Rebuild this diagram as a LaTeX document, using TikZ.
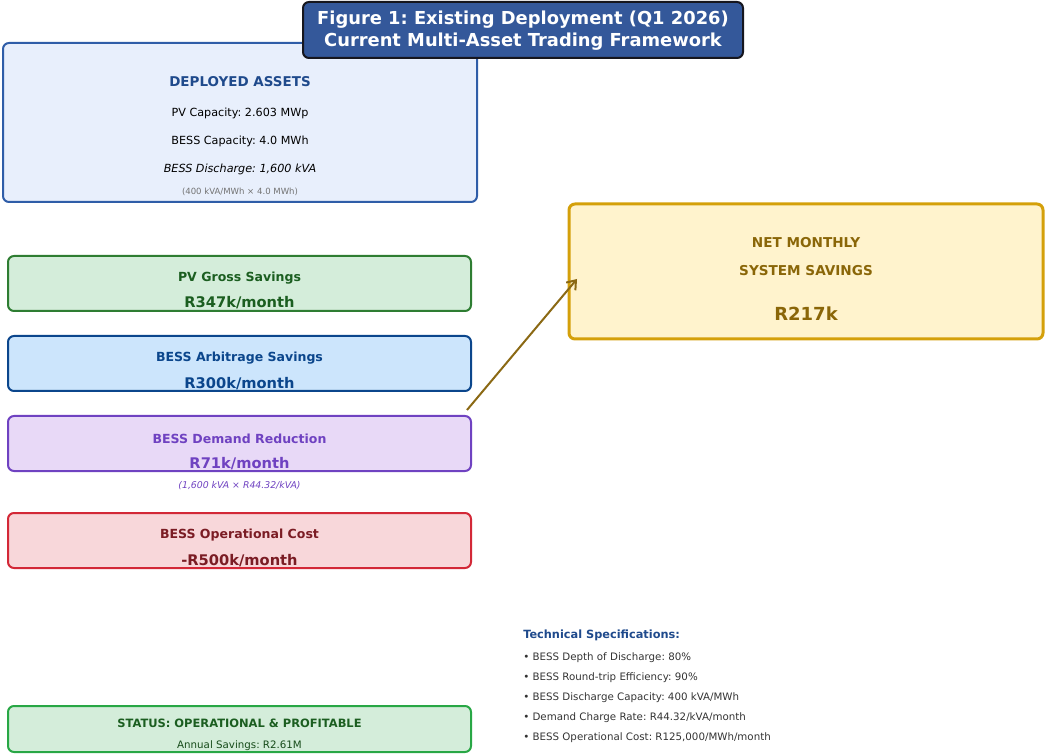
\documentclass[tikz,border=0pt]{standalone}
\usepackage{fontspec}
\setmainfont{DejaVu Sans}
\frenchspacing
\usetikzlibrary{arrows.meta}
\definecolor{titlefill}{RGB}{52,88,154}
\definecolor{titledraw}{RGB}{22,22,30}
\definecolor{assetfill}{RGB}{232,239,252}
\definecolor{assetdraw}{RGB}{47,93,168}
\definecolor{assettext}{RGB}{31,74,140}
\definecolor{pvfill}{RGB}{212,237,218}
\definecolor{pvdraw}{RGB}{46,125,50}
\definecolor{pvtext}{RGB}{27,94,32}
\definecolor{arbfill}{RGB}{204,229,252}
\definecolor{arbdraw}{RGB}{11,70,140}
\definecolor{arbtext}{RGB}{11,70,140}
\definecolor{demfill}{RGB}{232,217,247}
\definecolor{demdraw}{RGB}{111,66,193}
\definecolor{demtext}{RGB}{111,66,193}
\definecolor{opfill}{RGB}{248,215,218}
\definecolor{opdraw}{RGB}{211,40,55}
\definecolor{optext}{RGB}{123,28,36}
\definecolor{netfill}{RGB}{255,243,205}
\definecolor{netdraw}{RGB}{212,160,10}
\definecolor{nettext}{RGB}{138,102,8}
\definecolor{stfill}{RGB}{212,237,218}
\definecolor{stdraw}{RGB}{40,167,69}
\definecolor{sttext}{RGB}{27,94,32}
\definecolor{arrowc}{RGB}{139,105,20}
\definecolor{spectext}{RGB}{51,51,51}
\begin{document}
\begin{tikzpicture}[x=0.75pt,y=-0.75pt,
  box/.style={rectangle,rounded corners=4.5pt,line width=1.5pt,inner sep=0pt},
  lbl/.style={inner sep=0pt,anchor=center,yshift=-1.1pt},
  spec/.style={inner sep=0pt,anchor=west,yshift=-0.8pt,font=\fontsize{7.7}{9}\selectfont,text=spectext}]
\useasboundingbox (0,0) rectangle (1046,755);
% deployed assets
\node[box,fill=assetfill,draw=assetdraw,minimum width=355.5pt,minimum height=119.25pt] (assets) at (240,122.5) {};
\node[lbl,font=\fontsize{10.1}{12}\selectfont\bfseries,text=assettext] (assetsT) at (240,80) {DEPLOYED ASSETS};
\node[lbl,font=\fontsize{8.4}{10}\selectfont] (pvcap) at (240,112) {PV Capacity: 2.603 MWp};
\node[lbl,font=\fontsize{8.4}{10}\selectfont] (besscap) at (240,140) {BESS Capacity: 4.0 MWh};
\node[lbl,font=\fontsize{8.4}{10}\selectfont\itshape] (bessdis) at (240,168) {BESS Discharge: 1,600 kVA};
\node[lbl,font=\fontsize{6.4}{8}\selectfont,text=black!55] (bessnote) at (240,190) {(400 kVA/MWh × 4.0 MWh)};
% title
\node[box,fill=titlefill,draw=titledraw,minimum width=330pt,minimum height=42pt] (title) at (523,30) {};
\node[lbl,font=\fontsize{13.4}{16.5}\selectfont\bfseries,text=white,align=center] (titleT) at (523,29.5) {Figure 1: Existing Deployment (Q1 2026)\\Current Multi-Asset Trading Framework};
% PV
\node[box,fill=pvfill,draw=pvdraw,minimum width=347.25pt,minimum height=41.25pt] (pv) at (239.5,283.5) {};
\node[lbl,font=\fontsize{9.4}{11}\selectfont\bfseries,text=pvtext] (pvT) at (239.5,277) {PV Gross Savings};
\node[lbl,font=\fontsize{11}{13}\selectfont\bfseries,text=pvtext] (pvV) at (239.5,301) {R347k/month};
% Arbitrage
\node[box,fill=arbfill,draw=arbdraw,minimum width=347.25pt,minimum height=41.25pt] (arb) at (239.5,363.5) {};
\node[lbl,font=\fontsize{9.4}{11}\selectfont\bfseries,text=arbtext] (arbT) at (239.5,357) {BESS Arbitrage Savings};
\node[lbl,font=\fontsize{11}{13}\selectfont\bfseries,text=arbtext] (arbV) at (239.5,382) {R300k/month};
% Demand
\node[box,fill=demfill,draw=demdraw,minimum width=347.25pt,minimum height=41.25pt] (dem) at (239.5,443.5) {};
\node[lbl,font=\fontsize{9.4}{11}\selectfont\bfseries,text=demtext] (demT) at (239.5,437) {BESS Demand Reduction};
\node[lbl,font=\fontsize{11}{13}\selectfont\bfseries,text=demtext] (demV) at (239.5,462) {R71k/month};
\node[lbl,font=\fontsize{7}{8}\selectfont\itshape,text=demtext] (demN) at (239.5,484) {(1,600 kVA × R44.32/kVA)};
% Operational cost
\node[box,fill=opfill,draw=opdraw,minimum width=347.25pt,minimum height=41.25pt] (op) at (239.5,540.5) {};
\node[lbl,font=\fontsize{9.4}{11}\selectfont\bfseries,text=optext] (opT) at (239.5,534) {BESS Operational Cost};
\node[lbl,font=\fontsize{11}{13}\selectfont\bfseries,text=optext] (opV) at (239.5,559) {-R500k/month};
% Net
\node[box,fill=netfill,draw=netdraw,line width=2.25pt,minimum width=355.5pt,minimum height=101.25pt] (net) at (806,271.5) {};
\node[lbl,font=\fontsize{10.2}{12}\selectfont\bfseries,text=nettext] (netT1) at (806,241) {NET MONTHLY};
\node[lbl,font=\fontsize{10.2}{12}\selectfont\bfseries,text=nettext] (netT2) at (806,269) {SYSTEM SAVINGS};
\node[lbl,font=\fontsize{13.5}{16}\selectfont\bfseries,text=nettext] (netV) at (806,312) {R217k};
% arrow
\coordinate (arrS) at (467,410);
\coordinate (arrE) at (577,279);
\draw[arrowc,line width=1.5pt,-{Straight Barb[length=6pt,width=9pt,line width=1.5pt]}] (arrS) -- (arrE);
% specs
\node[inner sep=0pt,anchor=west,yshift=-0.8pt,font=\fontsize{8.5}{10}\selectfont\bfseries,text=assettext] (specT) at (523,634) {Technical Specifications:};
\node[spec] (s1) at (523,657) {• BESS Depth of Discharge: 80\%};
\node[spec] (s2) at (523,677) {• BESS Round-trip Efficiency: 90\%};
\node[spec] (s3) at (523,697) {• BESS Discharge Capacity: 400 kVA/MWh};
\node[spec] (s4) at (523,717) {• Demand Charge Rate: R44.32/kVA/month};
\node[spec] (s5) at (523,737) {• BESS Operational Cost: R125,000/MWh/month};
% status
\node[box,fill=stfill,draw=stdraw,minimum width=347.25pt,minimum height=34.5pt] (status) at (239.5,729) {};
\node[lbl,font=\fontsize{8.6}{10}\selectfont\bfseries,text=sttext] (stT) at (239.5,722) {STATUS: OPERATIONAL \& PROFITABLE};
\node[lbl,font=\fontsize{7.7}{9}\selectfont,text=sttext!80!black] (stV) at (239.5,744) {Annual Savings: R2.61M};
\end{tikzpicture}
\end{document}
